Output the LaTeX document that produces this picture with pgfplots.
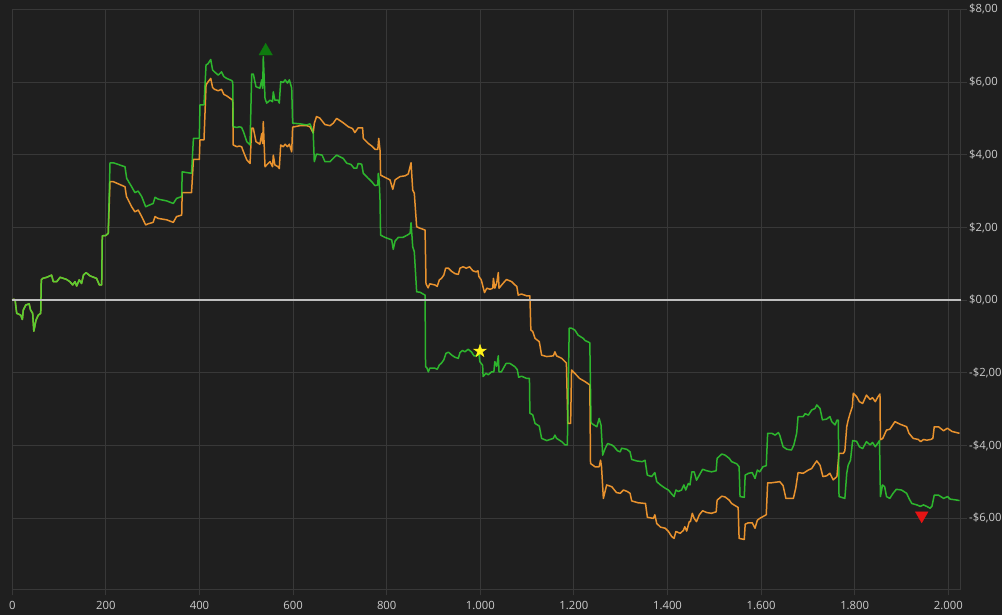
\documentclass[border=0pt]{standalone}
\usepackage{pgfplots}
\pgfplotsset{compat=1.18}
\usepackage{fontspec}
\setmainfont{Open Sans}
\definecolor{bg}{HTML}{1F1F1F}
\definecolor{gridc}{HTML}{383838}
\definecolor{txt}{HTML}{CCCCCC}
\definecolor{gline}{HTML}{32E032}
\definecolor{oline}{HTML}{E8922E}
\definecolor{zline}{HTML}{BEBEBE}
\definecolor{mgreen}{HTML}{0E7A0E}
\definecolor{myellow}{HTML}{FFF21A}
\definecolor{mred}{HTML}{E61414}
\pgfdeclareplotmark{fstar}{%
  \pgfpathmoveto{\pgfpointpolar{90}{\pgfplotmarksize}}%
  \pgfpathlineto{\pgfpointpolar{126}{0.382\pgfplotmarksize}}%
  \pgfpathlineto{\pgfpointpolar{162}{\pgfplotmarksize}}%
  \pgfpathlineto{\pgfpointpolar{198}{0.382\pgfplotmarksize}}%
  \pgfpathlineto{\pgfpointpolar{234}{\pgfplotmarksize}}%
  \pgfpathlineto{\pgfpointpolar{270}{0.382\pgfplotmarksize}}%
  \pgfpathlineto{\pgfpointpolar{306}{\pgfplotmarksize}}%
  \pgfpathlineto{\pgfpointpolar{342}{0.382\pgfplotmarksize}}%
  \pgfpathlineto{\pgfpointpolar{18}{\pgfplotmarksize}}%
  \pgfpathlineto{\pgfpointpolar{54}{0.382\pgfplotmarksize}}%
  \pgfpathclose
  \pgfusepathqfillstroke
}
\pgfplotstableread{
x y
0 0
3 0.03
6 0
9.4 -0.36
18 -0.41
21.5 -0.53
23.5 -0.27
29 -0.13
36 -0.1
39 -0.27
43.5 -0.36
46 -0.85
50.6 -0.55
55.6 -0.41
60.7 -0.36
62 0.56
65 0.6
73.5 0.63
84 0.69
87.6 0.51
95 0.51
102 0.63
116 0.57
123 0.51
129 0.42
134 0.51
137.6 0.39
143 0.56
148 0.46
152 0.69
157.5 0.76
166 0.67
180 0.6
186 0.42
191 0.42
192.3 1.77
200 1.78
205 1.84
208.8 3.78
215.8 3.78
240.8 3.67
244.4 3.35
255 3.12
262 2.96
269 3.0
276.5 2.85
285 2.57
290 2.6
301 2.66
305 2.83
311.5 2.78
330 2.73
344 2.66
351 2.8
362 2.85
363 3.53
383 3.49
387 4.45
399.6 4.45
401 5.37
409.6 5.37
414 6.47
418 6.5
424 6.62
428 6.33
432 6.28
440 6.19
447 6.28
452 6.15
458 6.1
469 6.04
471 6.0
472 4.77
480 4.75
485 4.77
490 4.75
494 4.63
501 4.36
508 4.27
511.5 6.22
515 6.22
520.7 5.87
529 5.83
533 6.06
535 5.83
536.3 6.7
540 5.55
543.6 5.42
550.7 5.5
556 5.46
557.7 5.73
561 5.5
568 5.5
570.5 5.42
573.5 6.01
579 5.99
583 6.06
588 5.97
592 6.06
597 5.83
599 4.87
614.7 4.85
629 4.82
636 4.85
640 4.73
643 4.6
645.3 3.81
650 4.02
662 3.99
668 3.81
679 3.81
682.5 3.86
693 3.99
707 3.9
714.5 3.77
724 3.73
730 3.63
736 3.63
739 3.76
746.6 3.74
750 3.49
760.7 3.35
768 3.26
775 3.15
781 3.17
782 3.49
784 3.3
785.7 2.76
787 1.79
796 1.73
802 1.7
810.7 1.66
814 1.4
818 1.63
825 1.73
835 1.73
844 1.79
850 1.84
852 2.13
855.6 1.47
859 1.33
864 0.23
871 0.22
882 0.14
883 -1.83
885.5 -1.85
889 -1.97
892 -1.87
903 -1.87
908 -1.9
912.5 -1.78
917 -1.73
922 -1.64
926.7 -1.46
932 -1.43
939 -1.51
946 -1.57
953 -1.6
956.6 -1.44
962 -1.38
967 -1.42
974 -1.35
981 -1.42
986.5 -1.53
992 -1.53
997 -1.46
999 -1.69
1005 -1.79
1006 -2.1
1012 -2.01
1017 -2.05
1024 -1.97
1029 -1.97
1031 -1.69
1035 -1.82
1038.5 -1.53
1040 -1.97
1045 -1.97
1055 -1.74
1063.5 -1.74
1074 -1.83
1079 -1.91
1082 -2.12
1088 -2.09
1099 -2.15
1105 -2.15
1106 -3.11
1112 -3.15
1117 -3.39
1126 -3.46
1131 -3.8
1142 -3.86
1156 -3.8
1159.5 -3.71
1163 -3.8
1174 -3.89
1181 -3.98
1186 -3.98
1190 -0.77
1195 -0.77
1202 -0.82
1209 -0.96
1220 -1.05
1224 -1.11
1234 -1.17
1236.5 -3.34
1238 -3.39
1249 -3.48
1254 -3.25
1258 -3.44
1261.5 -4.26
1267 -4.07
1272 -3.94
1281 -3.98
1286 -4.03
1293 -4.14
1299 -4.17
1302 -4.07
1313 -4.1
1320 -4.17
1323.5 -4.38
1334 -4.42
1346 -4.44
1352 -4.4
1356.8 -4.81
1366 -4.85
1373 -4.74
1377 -4.99
1385 -5.08
1395 -5.17
1402 -5.22
1409 -5.33
1414 -5.4
1418 -5.22
1423 -5.26
1430 -5.22
1435 -5.08
1439 -5.22
1444.5 -5.04
1448 -5.08
1452 -4.72
1457 -4.72
1462 -4.95
1468 -4.81
1475 -4.65
1484 -4.69
1494 -4.72
1504 -4.69
1506 -4.35
1516 -4.23
1523 -4.26
1532 -4.35
1537 -4.44
1548 -4.5
1553 -4.58
1555 -5.4
1564 -5.42
1566 -4.81
1573 -4.76
1581 -4.74
1587 -4.9
1592 -4.67
1597 -4.72
1604 -4.58
1611 -4.55
1614 -3.66
1623 -3.66
1630 -3.71
1637 -3.64
1640 -3.72
1647 -4.03
1655 -4.1
1665 -4.12
1670 -3.98
1676 -3.66
1679 -3.2
1690 -3.2
1694 -3.12
1701 -3.16
1708 -3.02
1715 -2.98
1719 -2.88
1726 -2.98
1731 -3.29
1740 -3.27
1747 -3.2
1751 -3.34
1758 -3.43
1762 -3.3
1765 -3.3
1766.5 -5.4
1779 -5.45
1783 -4.76
1786 -4.54
1791 -4.4
1795.6 -3.86
1804 -3.88
1810 -4.03
1817 -4.08
1825 -3.89
1833 -3.98
1838 -3.91
1844 -4.03
1850 -3.92
1853 -3.86
1855 -5.4
1859.5 -5.08
1864 -5.13
1868 -5.4
1875 -5.45
1882 -5.31
1889 -5.2
1900 -5.22
1911 -5.31
1916 -5.45
1922 -5.59
1933 -5.63
1940 -5.67
1947 -5.63
1954 -5.67
1961 -5.72
1965 -5.67
1970 -5.36
1979 -5.36
1990 -5.45
1998.5 -5.4
2004 -5.47
2015 -5.49
2024 -5.51
}\greendata
\pgfplotstableread{
x y
0 0
3 0.03
6 0
9.4 -0.36
18 -0.41
21.5 -0.53
23.5 -0.27
29 -0.13
36 -0.1
39 -0.27
43.5 -0.36
46 -0.85
50.6 -0.55
55.6 -0.41
60.7 -0.36
62 0.56
65 0.6
73.5 0.63
84 0.69
87.6 0.51
95 0.51
102 0.63
116 0.57
123 0.51
129 0.42
134 0.51
137.6 0.39
143 0.56
148 0.46
152 0.69
157.5 0.76
166 0.67
180 0.6
186 0.42
191 0.42
192.3 1.77
200 1.78
205 1.84
208.8 3.26
215.8 3.26
240.8 3.12
244 2.85
255 2.57
262 2.43
269 2.48
276.5 2.3
285 2.07
290 2.1
301 2.14
305 2.3
311.5 2.25
330 2.21
344 2.14
351 2.3
362 2.34
363 2.96
383 2.96
387 3.87
399.6 3.87
401 4.41
409.6 4.41
414 5.92
418 6.0
424 6.1
428 5.85
432 5.8
440 5.76
447 5.8
452 5.66
458 5.62
469 5.52
471 5.5
472 4.27
480 4.22
485 4.24
490 4.22
494 4.08
501 3.86
508 3.76
511.5 4.73
515 4.73
520.7 4.36
529 4.29
533 4.58
535 4.31
536.3 4.91
540 3.67
543.6 3.72
550.7 3.81
556 3.67
557.7 3.99
561 3.72
568 3.67
570.5 3.62
573.5 4.27
579 4.22
583 4.29
588 4.22
592 4.29
597 4.08
599 4.76
614.7 4.8
629 4.8
636 4.77
643 4.6
645.3 4.86
650 5.05
657 5.01
668 4.83
679 4.8
686 4.87
693 5.0
707 4.88
718 4.77
727 4.72
732 4.61
739 4.74
748.5 4.74
750 4.45
760.7 4.31
768 4.24
775 4.15
781 4.15
783 4.45
785.7 4.13
787 3.44
796 3.38
807 3.31
813 3.05
818 3.31
828.5 3.4
839 3.42
846 3.47
852 3.78
855.6 3.03
859 2.94
864 2.02
871 1.98
882 1.93
884 0.45
888.5 0.34
892 0.45
903 0.42
908 0.38
912.5 0.56
917 0.6
922 0.69
926 0.88
932 0.88
939 0.79
946 0.73
953 0.71
956.6 0.88
963 0.92
970 0.88
977 0.92
984 0.81
991 0.78
995 0.81
997 0.65
1002 0.56
1009 0.21
1014 0.33
1021 0.3
1026.6 0.33
1028 0.6
1031 0.33
1035 0.47
1038.5 0.76
1040 0.33
1049 0.47
1056 0.57
1067 0.51
1074 0.42
1078 0.38
1081 0.14
1088 0.17
1099 0.12
1106 0.12
1108 -0.82
1112 -0.86
1117 -1.05
1126 -1.14
1131 -1.51
1142 -1.55
1156 -1.53
1159.5 -1.42
1163 -1.53
1174 -1.6
1181 -1.69
1184 -1.73
1187 -3.39
1193 -3.39
1195 -1.92
1202 -2.01
1212 -2.15
1224 -2.24
1234 -2.33
1235.5 -4.49
1245 -4.58
1254 -4.58
1257 -4.4
1259 -4.58
1263 -5.45
1270 -5.08
1281 -5.13
1291 -5.29
1299 -5.31
1306 -5.22
1314 -5.26
1320 -5.31
1323.5 -5.52
1337 -5.57
1353 -5.59
1357 -5.97
1370 -6.0
1373 -5.9
1377 -6.14
1385 -6.24
1395 -6.27
1402 -6.36
1409 -6.5
1414 -6.55
1418 -6.36
1427 -6.41
1434 -6.33
1437 -6.23
1441 -6.35
1446.5 -6.09
1449 -6.09
1453 -5.86
1457 -6.0
1462 -6.09
1468 -5.9
1475 -5.79
1484 -5.84
1494 -5.86
1504 -5.82
1506 -5.5
1516 -5.39
1523 -5.41
1532 -5.5
1537 -5.59
1551 -5.7
1553 -6.55
1564 -6.58
1566 -6.16
1573 -6.12
1581 -6.12
1587 -6.27
1592 -6.05
1597 -6.0
1604 -5.95
1611 -5.9
1614 -5.02
1623 -5.02
1640 -4.99
1647 -5.1
1653 -5.45
1669 -5.45
1674 -5.17
1679 -4.74
1690 -4.76
1701 -4.67
1708 -4.63
1715 -4.49
1719 -4.42
1726 -4.54
1732 -4.85
1740 -4.83
1747 -4.76
1754 -4.94
1762 -4.85
1766.5 -4.21
1776 -4.21
1779 -4.14
1783 -3.48
1786 -3.3
1790 -3.12
1795 -2.93
1797 -2.56
1804 -2.65
1810 -2.79
1817 -2.84
1825 -2.61
1833 -2.73
1838 -2.68
1844 -2.79
1850 -2.65
1854 -2.58
1855 -3.84
1860 -3.8
1868 -3.57
1875 -3.55
1886 -3.34
1897 -3.41
1911 -3.48
1916 -3.66
1925 -3.8
1936 -3.83
1941 -3.89
1947 -3.83
1954 -3.85
1962.5 -3.83
1967 -3.8
1970 -3.48
1979 -3.48
1990 -3.59
1998 -3.52
2008 -3.61
2024 -3.66
}\orangedata
\begin{document}
\begin{tikzpicture}
\fill[bg] (0,0) rectangle (1002pt,615pt);
\begin{axis}[
  at={(12.3pt,25.7pt)}, anchor=south west,
  scale only axis, width=948.4pt, height=580pt,
  xmin=0, xmax=2026.5, ymin=-7.95, ymax=8,
  axis line style={gridc, line width=1pt},
  grid=major, major grid style={gridc, line width=1pt},
  tick style={gridc, line width=1pt},
  tick align=outside, major tick length=6pt,
  xtick pos=bottom, ytick pos=right, yticklabel pos=right,
  xtick={0,200,400,600,800,1000,1200,1400,1600,1800,2000},
  xticklabels={0,200,400,600,800,1.000,1.200,1.400,1.600,1.800,2.000},
  ytick={-6,-4,-2,0,2,4,6,8},
  yticklabels={-\$6{,}00,-\$4{,}00,-\$2{,}00,\$0{,}00,\$2{,}00,\$4{,}00,\$6{,}00,\$8{,}00},
  ticklabel style={font=\fontsize{11.3}{13}\selectfont, text=txt},
  xticklabel style={yshift=-2.5pt},
  yticklabel style={anchor=west, xshift=-1pt},
  clip=false,
]
\addplot[oline, line width=1.5pt, line join=round] table[x=x,y=y]{\orangedata};
\addplot[gline, line width=1.5pt, line join=round, opacity=0.78] table[x=x,y=y]{\greendata};
\addplot[zline, line width=2pt] coordinates {(0,0) (2026.5,0)};
\addplot[only marks, mark=triangle*, mark size=7.8pt, mark options={fill=mgreen, draw=mgreen}] coordinates {(541.4,6.85)};
\addplot[only marks, mark=fstar, mark size=6.7pt, mark options={fill=myellow, draw=myellow}] coordinates {(999.4,-1.40)};
\addplot[only marks, mark=triangle*, mark size=7.3pt, mark options={fill=mred, draw=mred, rotate=180}] coordinates {(1943.2,-5.92)};
\end{axis}
\pgfresetboundingbox
\useasboundingbox (0,0) rectangle (1002pt,615pt);
\end{tikzpicture}
\end{document}
